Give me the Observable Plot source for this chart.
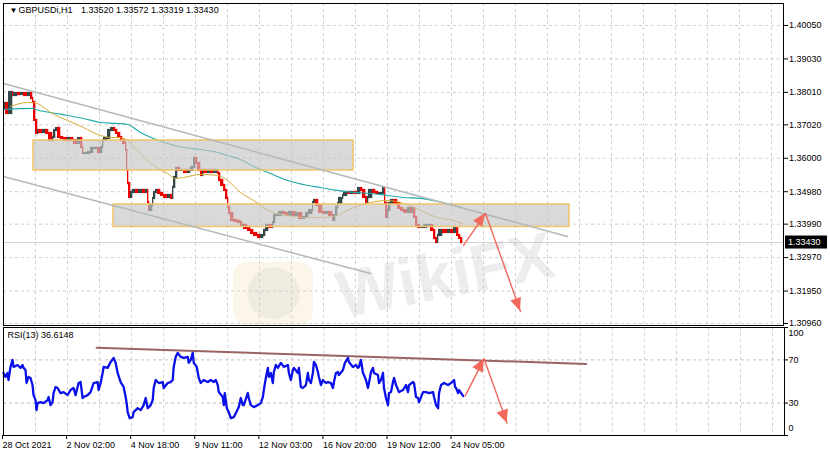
<!DOCTYPE html>
<html><head><meta charset="utf-8">
<script src="https://cdn.jsdelivr.net/npm/d3@7"></script>
<script src="https://cdn.jsdelivr.net/npm/@observablehq/plot@0.6"></script>
<style>
body{margin:0;background:#fff;}
#wrap{position:relative;width:830px;height:456px;overflow:hidden;background:#fff;}
#wrap svg{position:absolute;left:0;}
</style></head><body><div id="wrap"></div>
<script>
// ---- time axis (bar index, one bar per hour of trading) ----
const labelIdx = [0,64,128,192,256,320,384,448];
const timeLabels = ["28 Oct 2021","2 Nov 02:00","4 Nov 18:00","9 Nov 11:00","12 Nov 03:00","16 Nov 20:00","19 Nov 12:00","24 Nov 05:00"];
const gridIdx = [32,64,96,128,160,192,224,256,288,320,352,384,416,448,480,512,544,576,608,640,672,704,736,768];
const priceTicks = [1.40050,1.39030,1.38010,1.37020,1.36000,1.34980,1.33990,1.32970,1.31950,1.30960];
const rsiLevels = [70,30];

// ---- GBPUSD H1 closes ----
const priceIdx = [
  0,2,5,9,10,14,17,20,24,27,
  29,30,32,34,35,39,42,45,49,50,
  52,54,57,60,64,67,70,74,77,79,
  80,84,87,90,94,97,99,100,104,107,
  110,112,114,117,119,122,123,124,125,127,
  129,132,135,139,142,144,145,146,149,150,
  152,154,157,160,164,167,169,170,172,174,
  177,180,184,187,190,192,194,197,199,200,
  204,207,210,214,215,217,220,222,224,225,
  227,230,234,237,239,240,244,247,250,254,
  257,260,262,265,269,270,272,275,279,282,
  285,289,292,295,299,302,305,309,310,312,
  315,319,322,325,329,330,332,334,335,339,
  340,344,347,350,354,357,359,362,364,365,
  369,372,375,379,381,382,384,385,387,390,
  394,397,400,404,407,409,410,412,414,417,
  420,424,427,430,432,434,435,439,444,447,
  450,453,455,457,459];
const priceClose = [
  1.37519,1.37671,1.37366,1.38006,1.37915,1.37976,1.37945,1.37976,1.37915,1.37976,
  1.37823,1.37701,1.37153,1.36756,1.36847,1.36786,1.36847,1.36756,1.36542,1.36634,
  1.36847,1.36908,1.36634,1.36603,1.36542,1.36603,1.36542,1.36451,1.36603,1.36329,
  1.36146,1.36146,1.36176,1.36298,1.36298,1.36176,1.36329,1.36542,1.36603,1.36847,
  1.36908,1.36847,1.36756,1.36634,1.36542,1.36451,1.36238,1.35627,1.35231,1.34804,
  1.34957,1.35018,1.34957,1.35018,1.34957,1.35018,1.34652,1.34408,1.34560,1.34774,
  1.34957,1.35018,1.34926,1.34865,1.34804,1.34865,1.34774,1.35110,1.35414,1.35689,
  1.35628,1.35628,1.35566,1.35628,1.35719,1.35994,1.35841,1.35628,1.35475,1.35628,
  1.35566,1.35628,1.35566,1.35628,1.35536,1.35322,1.35170,1.35018,1.34774,1.34499,
  1.34316,1.34103,1.34072,1.34042,1.33950,1.33950,1.33859,1.33798,1.33706,1.33645,
  1.33584,1.33645,1.33798,1.33950,1.33889,1.34042,1.34255,1.34255,1.34347,1.34316,
  1.34255,1.34347,1.34255,1.34316,1.34164,1.34194,1.34316,1.34408,1.34652,1.34713,
  1.34560,1.34347,1.34316,1.34347,1.34255,1.34103,1.34255,1.34499,1.34621,1.34774,
  1.34865,1.34957,1.34926,1.34957,1.34926,1.35078,1.35018,1.34804,1.34652,1.34804,
  1.35018,1.34957,1.34926,1.34926,1.35078,1.34621,1.34194,1.34408,1.34621,1.34713,
  1.34621,1.34469,1.34408,1.34347,1.34469,1.34347,1.34469,1.34194,1.33950,1.33889,
  1.33889,1.33950,1.33950,1.33798,1.33554,1.33432,1.33645,1.33798,1.33737,1.33798,
  1.33737,1.33859,1.33645,1.33554,1.33430];
const lastPrice = 1.33430;

// ---- moving averages ----
const slowMaIdx = [0,30,32,47,64,80,97,114,124,137,150,164,180,197,214,224,237,250,267,284,300,317,334,350,367,384,400,417,434,450,459];
const slowMa = [1.37488,1.37519,1.37488,1.37397,1.37305,1.37214,1.37091,1.37061,1.37031,1.36787,1.36603,1.36451,1.36329,1.36268,1.36176,1.36085,1.35963,1.35750,1.35536,1.35322,1.35200,1.35109,1.35018,1.34957,1.34926,1.34865,1.34804,1.34774,1.34682,1.34560,1.34499];
const fastMaIdx = [7,24,29,34,47,64,80,97,107,117,124,137,150,164,172,180,197,214,224,237,250,267,284,300,317,334,340,350,367,384,400,417,434,450,459];
const fastMa = [1.37580,1.37702,1.37702,1.37671,1.37397,1.37153,1.36939,1.36695,1.36634,1.36634,1.36542,1.36146,1.35780,1.35536,1.35384,1.35414,1.35506,1.35475,1.35322,1.34957,1.34713,1.34378,1.34255,1.34194,1.34194,1.34255,1.34347,1.34499,1.34652,1.34713,1.34621,1.34408,1.34194,1.34103,1.34011];

// ---- drawn objects ----
const channelUpperIdx = [0,564];
const channelUpper = [1.38281,1.33615];
const channelLowerIdx = [0,367];
const channelLower = [1.35445,1.32486];
const zoneX1 = [30,110];
const zoneX2 = [350,566];
const zoneLow = [1.35628,1.33904];
const zoneHigh = [1.36542,1.34590];
const priceArrowIdx = [460,482,517];
const priceArrowVal = [1.33340,1.34316,1.31327];

// ---- RSI(13) ----
const rsiIdx = [
  0,2,4,5,7,9,10,14,17,19,
  20,22,23,25,27,29,30,32,33,34,
  37,40,44,45,47,49,50,52,54,57,
  60,64,67,70,72,75,77,79,80,84,
  87,90,94,95,97,99,100,104,107,110,
  112,114,117,120,122,123,124,126,129,130,
  134,137,140,142,144,147,149,150,152,155,
  159,160,164,167,169,170,172,174,177,180,
  184,185,187,189,190,193,195,197,200,204,
  207,210,212,214,215,219,220,221,223,225,
  227,230,232,235,237,239,240,244,245,247,
  250,254,257,259,260,262,264,265,267,269,
  270,272,274,277,280,284,285,287,289,290,
  294,295,297,299,302,304,305,307,309,310,
  312,314,315,317,319,322,324,327,329,330,
  332,334,335,339,341,344,345,349,352,354,
  355,357,359,360,362,364,365,367,369,370,
  374,375,377,379,380,382,384,385,387,389,
  390,392,395,399,402,404,405,409,410,412,
  414,415,419,422,425,429,430,432,434,435,
  437,440,444,447,450,451,452,454,455,457,
  459];
const rsiVal = [
  57.9,54.2,57.9,51.4,63.5,70.0,63.5,65.3,62.6,65.3,
  62.6,60.7,48.6,54.2,53.3,46.7,37.4,32.8,23.5,30.0,
  30.9,30.0,32.8,35.6,28.1,30.9,39.3,44.9,44.0,39.3,
  40.2,37.4,42.1,44.0,37.4,48.6,49.5,34.7,35.6,37.4,
  40.2,48.6,49.5,42.1,48.6,57.9,63.5,62.6,68.1,71.9,
  67.2,57.9,49.5,44.9,35.6,30.0,21.6,16.0,17.0,21.6,
  25.3,23.5,28.1,34.7,25.3,28.1,32.8,44.0,51.4,48.6,
  49.5,44.0,48.6,49.5,51.4,63.5,72.8,76.5,72.8,71.9,
  72.8,67.2,70.0,76.5,67.2,63.5,53.3,48.6,51.4,49.5,
  51.4,49.5,51.4,46.7,40.2,35.6,28.1,39.3,25.3,21.6,
  16.0,17.0,20.7,26.3,34.7,28.1,28.1,39.3,34.7,28.1,
  26.3,28.1,30.0,35.6,42.1,53.3,62.6,54.2,57.9,48.6,
  58.8,65.3,62.6,67.2,63.5,65.3,57.9,51.4,60.7,62.6,
  57.9,62.6,44.9,44.0,46.7,57.9,51.4,48.6,57.9,68.1,
  65.3,58.8,54.2,46.7,51.4,48.6,49.5,48.6,44.0,49.5,
  57.9,58.8,56.0,60.7,67.2,71.9,68.1,63.5,65.3,62.6,
  63.5,70.0,57.9,56.0,51.4,44.0,48.6,58.8,62.6,57.9,
  56.0,48.6,51.4,57.9,44.0,34.7,28.1,39.3,40.2,49.5,
  53.3,46.7,40.2,42.1,46.7,40.2,46.7,49.5,48.6,35.6,
  34.7,30.9,40.2,40.2,39.3,40.2,35.6,28.1,25.3,39.3,
  46.7,48.6,46.7,48.6,51.4,44.9,44.0,39.3,42.1,39.3,
  36.6];
const rsiTrendIdx = [93,582];
const rsiTrend = [81.2,66.3];
const rsiArrowIdx = [461,480,503];
const rsiArrowVal = [36.5,70.9,11.4];

// ---- watermark ----
const wmIdx = 442, wmPrice = 1.32400;
const logoX1 = 230, logoX2 = 310, logoTop = 1.32821, logoBottom = 1.30899;

// ===== build =====
const FONT = "Liberation Sans, Arial, sans-serif";
const GRID = "#d0d0d0";
const ARROW = "#f2685c";
const UP = "#34474a", DOWN = "#ee0000";
const xDomain = [0,780];

const pts = (xs, ys) => xs.map((x,i) => ({x, y: ys[i]}));
const steps = priceIdx.slice(1).map((x,i) => ({x1: priceIdx[i], x2: x, o: priceClose[i], c: priceClose[i+1]}));
const zones = zoneX1.map((x,i) => ({x1: x, x2: zoneX2[i], y1: zoneLow[i], y2: zoneHigh[i]}));

const price = Plot.plot({
  width: 830, height: 327,
  marginLeft: 3, marginRight: 47, marginTop: 3, marginBottom: 2,
  style: {fontFamily: FONT, fontSize: "9px", color: "#000", background: "transparent"},
  x: {domain: xDomain, axis: null},
  y: {domain: [1.30899, 1.40721], axis: null},
  marks: [
    Plot.gridX(gridIdx, {stroke: GRID, strokeOpacity: 1, strokeDasharray: "3,3"}),
    Plot.gridY(priceTicks, {stroke: GRID, strokeOpacity: 1, strokeDasharray: "3,3"}),
    Plot.ruleY([lastPrice], {stroke: "#d4d4d4", strokeWidth: 1}),
    Plot.rect([0], {x1: logoX1, x2: logoX2, y1: logoBottom, y2: logoTop, fill: "#f4dcaa", fillOpacity: 0.25, rx: 14}),
    Plot.dot([0], {x: (logoX1+logoX2)/2, y: (logoTop+1.3096)/2, r: 26, fill: "#bdbdbd", fillOpacity: 0.18}),
    Plot.text(["WikiFX"], {x: wmIdx, y: wmPrice, fontSize: 66, fontWeight: "bold", rotate: -11, fill: "#b8b8b8", fillOpacity: 0.25, fontFamily: "Liberation Sans, sans-serif"}),
    Plot.rect(steps, {x1: "x1", x2: "x2", y1: "o", y2: "c", fill: d => d.c >= d.o ? UP : DOWN, insetTop: -1.1, insetBottom: -1.1, insetRight: -0.3}),
    Plot.line(pts(slowMaIdx, slowMa), {x: "x", y: "y", stroke: "#20a8a8", strokeWidth: 1.2, curve: "monotone-x"}),
    Plot.line(pts(fastMaIdx, fastMa), {x: "x", y: "y", stroke: "#d8aa30", strokeWidth: 1, curve: "monotone-x"}),
    Plot.rect(zones, {x1: "x1", x2: "x2", y1: "y1", y2: "y2", fill: "#c6c6c6", fillOpacity: 0.66, stroke: "#f0c46a", strokeWidth: 1.5}),
    Plot.line(pts(channelUpperIdx, channelUpper), {x: "x", y: "y", stroke: "#b0baba", strokeWidth: 1.5}),
    Plot.line(pts(channelLowerIdx, channelLower), {x: "x", y: "y", stroke: "#b0baba", strokeWidth: 1.5}),
    Plot.line(pts(priceArrowIdx, priceArrowVal), {x: "x", y: "y", stroke: ARROW, strokeWidth: 1.4}),
    Plot.text(["▼"], {frameAnchor: "top-left", dx: 6, dy: 4, lineAnchor: "top", textAnchor: "start", fontSize: 8, fill: "#000"}),
    Plot.text(["GBPUSDi,H1"], {frameAnchor: "top-left", dx: 15, dy: 3.5, lineAnchor: "top", textAnchor: "start", fill: "#000"}),
    Plot.text(["1.33520 1.33572 1.33319 1.33430"], {frameAnchor: "top-left", dx: 77.5, dy: 3.5, lineAnchor: "top", textAnchor: "start", fill: "#000"}),
    Plot.frame({stroke: "#000", strokeWidth: 1}),
    Plot.axisY({anchor: "right", ticks: priceTicks, tickFormat: d3.format(".5f"), tickSize: 4, tickPadding: 1.5, fontSize: 9, fill: "#000", label: null})
  ]
});

const rsi = Plot.plot({
  width: 830, height: 131,
  marginLeft: 3, marginRight: 46, marginTop: 2, marginBottom: 21,
  style: {fontFamily: FONT, fontSize: "9px", color: "#000", background: "transparent"},
  x: {domain: xDomain, axis: null},
  y: {domain: [0, 100], axis: null},
  marks: [
    Plot.gridX(gridIdx, {stroke: GRID, strokeOpacity: 1, strokeDasharray: "3,3"}),
    Plot.ruleY(rsiLevels, {stroke: "#bdbdbd", strokeDasharray: "3,3"}),
    Plot.line(pts(rsiTrendIdx, rsiTrend), {x: "x", y: "y", stroke: "#9a6464", strokeWidth: 2}),
    Plot.line(pts(rsiIdx, rsiVal), {x: "x", y: "y", stroke: "#0a10e8", strokeWidth: 2.3}),
    Plot.line(pts(rsiArrowIdx, rsiArrowVal), {x: "x", y: "y", stroke: ARROW, strokeWidth: 1.4}),
    Plot.text(["RSI(13) 36.6148"], {frameAnchor: "top-left", dx: 4, dy: 4.5, lineAnchor: "top", textAnchor: "start", fill: "#000"}),
    Plot.frame({stroke: "#000", strokeWidth: 1}),
    Plot.axisX({ticks: labelIdx, tickFormat: d => timeLabels[labelIdx.indexOf(d)], textAnchor: "start", tickSize: 4, tickPadding: 2, fontSize: 9, fill: "#000", dx: -1, label: null}),
    Plot.axisY({anchor: "right", ticks: [0,30,70,100], tickSize: 3, tickFormat: () => "", label: null}),
    Plot.text([70,30], {frameAnchor: "right", y: d => d, text: d => String(d), dx: 4, textAnchor: "start", fill: "#000"}),
    Plot.text([100], {frameAnchor: "right", y: d => d, text: d => String(d), dx: 4, dy: 6, textAnchor: "start", fill: "#000"}),
    Plot.text([0], {frameAnchor: "right", y: d => d, text: d => String(d), dx: 4, dy: -7, textAnchor: "start", fill: "#000"})
  ]
});

price.style.top = "0px";
rsi.style.top = "325px";
const wrap = document.getElementById("wrap");
wrap.appendChild(price);
wrap.appendChild(rsi);

// arrowheads and current-price tag, placed through the plots' own scales
function heads(svg, idxs, vals, segs, len, half) {
  const sx = svg.scale("x"), sy = svg.scale("y");
  const g = d3.select(svg).append("g");
  for (const [a, b] of segs) {
    const x1 = sx.apply(idxs[a]), y1 = sy.apply(vals[a]);
    const x2 = sx.apply(idxs[b]), y2 = sy.apply(vals[b]);
    const ang = Math.atan2(y2 - y1, x2 - x1);
    const bx = x2 - len * Math.cos(ang), by = y2 - len * Math.sin(ang);
    const px = -Math.sin(ang) * half, py = Math.cos(ang) * half;
    g.append("polygon")
      .attr("points", `${x2},${y2} ${bx + px},${by + py} ${bx - px},${by - py}`)
      .attr("fill", ARROW);
  }
}
heads(price, priceArrowIdx, priceArrowVal, [[0,1],[1,2]], 13, 5.5);
heads(rsi, rsiArrowIdx, rsiArrowVal, [[0,1],[1,2]], 13, 6);

{
  const sy = price.scale("y");
  const yy = sy.apply(lastPrice);
  const g = d3.select(price).append("g");
  g.append("rect").attr("x", 785).attr("y", yy - 6.5).attr("width", 42).attr("height", 13).attr("fill", "#000");
  g.append("text").attr("x", 788).attr("y", yy).attr("dy", "0.35em").attr("fill", "#fff")
    .attr("text-anchor", "start").attr("font-family", FONT).attr("font-size", 9).text(d3.format(".5f")(lastPrice));
}
</script>
</body></html>
